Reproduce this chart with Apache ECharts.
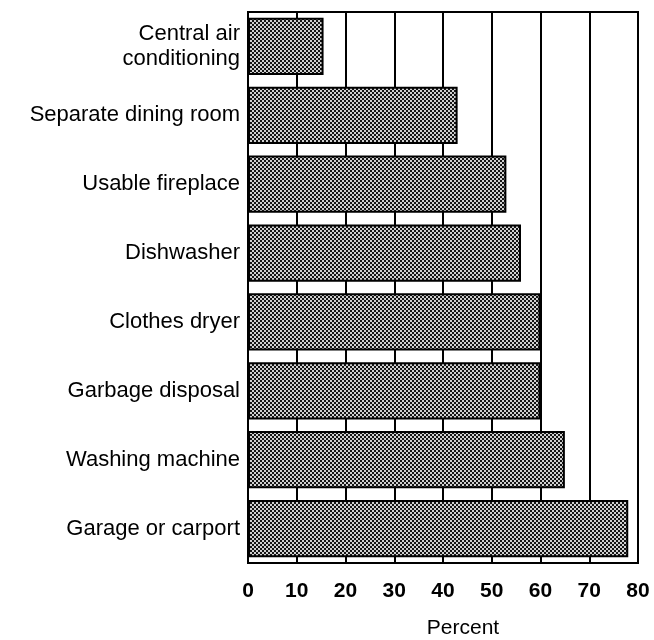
<!DOCTYPE html>
<html>
<head>
<meta charset="utf-8">
<script src="https://cdn.jsdelivr.net/npm/echarts@6/dist/echarts.min.js"></script>
<style>
	html, body { margin: 0; padding: 0; background: #fff; }
	#chart { width: 654px; height: 640px; }
</style>
</head>
<body>
<div id="chart"></div>
<script>
// amenities, top to bottom
var categories = [
	'Central air\nconditioning',
	'Separate dining room',
	'Usable fireplace',
	'Dishwasher',
	'Clothes dryer',
	'Garbage disposal',
	'Washing machine',
	'Garage or carport'
]
var percents = [15.5, 43, 53, 56, 60, 60, 65, 78]
var xTicks = [0, 80, 10]

// halftone-like fill for the bars
function makePattern() {
	var c = document.createElement('canvas')
	c.width = 4
	c.height = 4
	var ctx = c.getContext('2d')
	ctx.fillStyle = '#d0d0d0'
	ctx.fillRect(0, 0, 4, 4)
	ctx.fillStyle = '#151515'
	ctx.fillRect(0, 0, 2, 2)
	ctx.fillRect(2, 2, 2, 2)
	return c
}

var chart = echarts.init(document.getElementById('chart'))
chart.setOption({
	backgroundColor: '#fff',
	animation: false,
	grid: {
		left: 248,
		right: 16,
		top: 12,
		bottom: 77,
		outerBoundsMode: 'none',
		show: true,
		borderColor: '#000',
		borderWidth: 2,
		backgroundColor: 'transparent'
	},
	xAxis: {
		type: 'value',
		min: xTicks[0],
		max: xTicks[1],
		interval: xTicks[2],
		name: 'Percent',
		nameLocation: 'middle',
		nameGap: 55,
		nameTextStyle: {
			fontFamily: 'Liberation Sans',
			fontSize: 21,
			color: '#000',
			padding: [0, 0, 0, 40]
		},
		axisLine: { show: false },
		axisTick: { show: false },
		axisLabel: {
			margin: 18,
			fontFamily: 'Liberation Sans',
			fontWeight: 'bold',
			fontSize: 21,
			color: '#000'
		},
		splitLine: {
			show: true,
			lineStyle: { color: '#000', width: 2 }
		}
	},
	yAxis: {
		type: 'category',
		data: categories,
		inverse: true,
		axisLine: { show: false },
		axisTick: { show: false },
		splitLine: { show: false },
		axisLabel: {
			margin: 8,
			fontFamily: 'Liberation Sans',
			fontSize: 22,
			color: '#000',
			lineHeight: 25,
			align: 'right'
		}
	},
	series: [
		{
			type: 'bar',
			data: percents,
			barCategoryGap: '17%',
			itemStyle: {
				color: { image: makePattern(), repeat: 'repeat' },
				borderColor: '#000',
				borderWidth: 2
			}
		}
	]
})
</script>
</body>
</html>
